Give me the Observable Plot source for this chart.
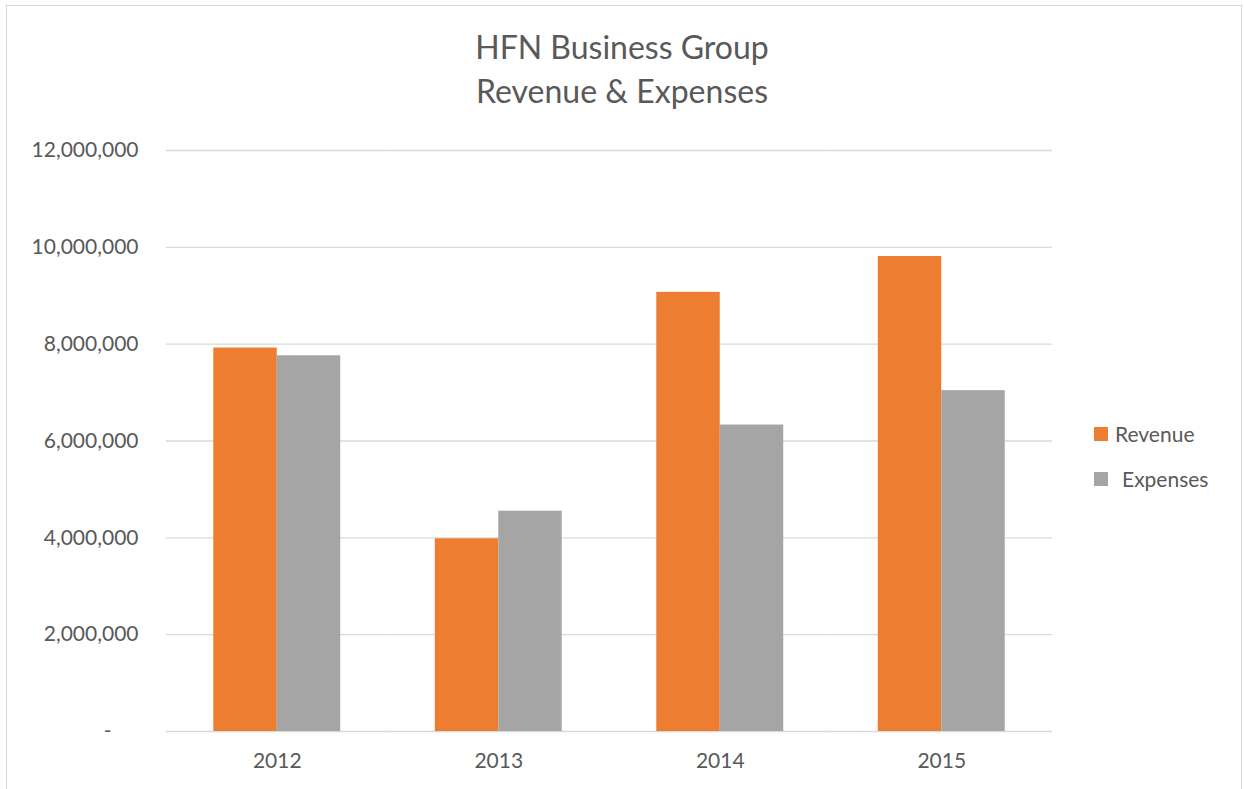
<!DOCTYPE html>
<html>
<head>
<meta charset="utf-8">
<script src="https://cdn.jsdelivr.net/npm/d3@7"></script>
<script src="https://cdn.jsdelivr.net/npm/@observablehq/plot@0.6"></script>
<style>
  html, body { margin: 0; padding: 0; background: #fff; overflow: hidden; }
  #wrap { position: relative; width: 1244px; height: 789px; font-family: Lato, "Open Sans", sans-serif; color: #595959; }
  #border { position: absolute; left: 6px; top: 5px; width: 1234px; height: 800px; border: 1px solid #d9d9d9; border-bottom: none; }
  #title { position: absolute; left: 0; width: 1244px; top: 25px; text-align: center; font-size: 32px; line-height: 44px; }
  #chart { position: absolute; left: 0; top: 0; }
  .leg { position: absolute; font-size: 21px; line-height: 21px; white-space: nowrap; }
  .sw { position: absolute; width: 14px; height: 14px; }
</style>
</head>
<body>
<div id="wrap">
  <div id="border"></div>
  <div id="chart"></div>
  <div id="title"></div>
  <div id="legend"></div>
</div>
<script>
const titleLines = ["HFN Business Group", "Revenue & Expenses"];
const years = ["2012", "2013", "2014", "2015"];
const seriesNames = ["Revenue", "Expenses"];
const seriesColors = ["#ED7D31", "#A5A5A5"];
const revenue = [7920000, 3980000, 9070000, 9810000];
const expenses = [7760000, 4550000, 6330000, 7040000];
const yTicks = [0, 2000000, 4000000, 6000000, 8000000, 10000000, 12000000];

const data = [];
years.forEach((yr, i) => {
  data.push({year: yr, series: seriesNames[0], value: revenue[i]});
  data.push({year: yr, series: seriesNames[1], value: expenses[i]});
});

const fmt = d3.format(",");
const chart = Plot.plot({
  width: 1244,
  height: 789,
  marginLeft: 166,
  marginRight: 192,
  marginTop: 150,
  marginBottom: 58,
  style: {fontFamily: "Lato, 'Open Sans', sans-serif", fontSize: "21px", color: "#595959", background: "transparent", overflow: "visible"},
  fx: {domain: years, paddingInner: 0, paddingOuter: 0, round: false, label: null},
  x: {domain: seriesNames, paddingInner: 0, paddingOuter: 0.745, round: false, axis: null},
  y: {domain: [0, 12000000], label: null},
  color: {domain: seriesNames, range: seriesColors},
  marks: [
    Plot.ruleY(yTicks, {stroke: "#d9d9d9", strokeWidth: 1.3}),
    Plot.barY(data, {fx: "year", x: "series", y: "value", fill: "series", inset: 0}),
    Plot.axisY({ticks: yTicks, tickSize: 0, tickPadding: 28, label: null,
      tickFormat: d => d === 0 ? "-" + "\u00a0".repeat(5) : fmt(d)}),
    Plot.axisFx({anchor: "bottom", tickSize: 0, tickPadding: 22, label: null})
  ]
});
document.getElementById("chart").appendChild(chart);

const t = document.getElementById("title");
titleLines.forEach(line => { const d = document.createElement("div"); d.textContent = line; t.appendChild(d); });

const leg = document.getElementById("legend");
const legPos = [{sx: 1094, sy: 427, tx: 1115, ty: 423}, {sx: 1094, sy: 472, tx: 1122, ty: 468}];
seriesNames.forEach((name, i) => {
  const s = document.createElement("div");
  s.className = "sw";
  s.style.left = legPos[i].sx + "px"; s.style.top = legPos[i].sy + "px";
  s.style.background = seriesColors[i];
  leg.appendChild(s);
  const l = document.createElement("div");
  l.className = "leg";
  l.style.left = legPos[i].tx + "px"; l.style.top = legPos[i].ty + "px";
  l.textContent = name;
  leg.appendChild(l);
});
</script>
</body>
</html>
